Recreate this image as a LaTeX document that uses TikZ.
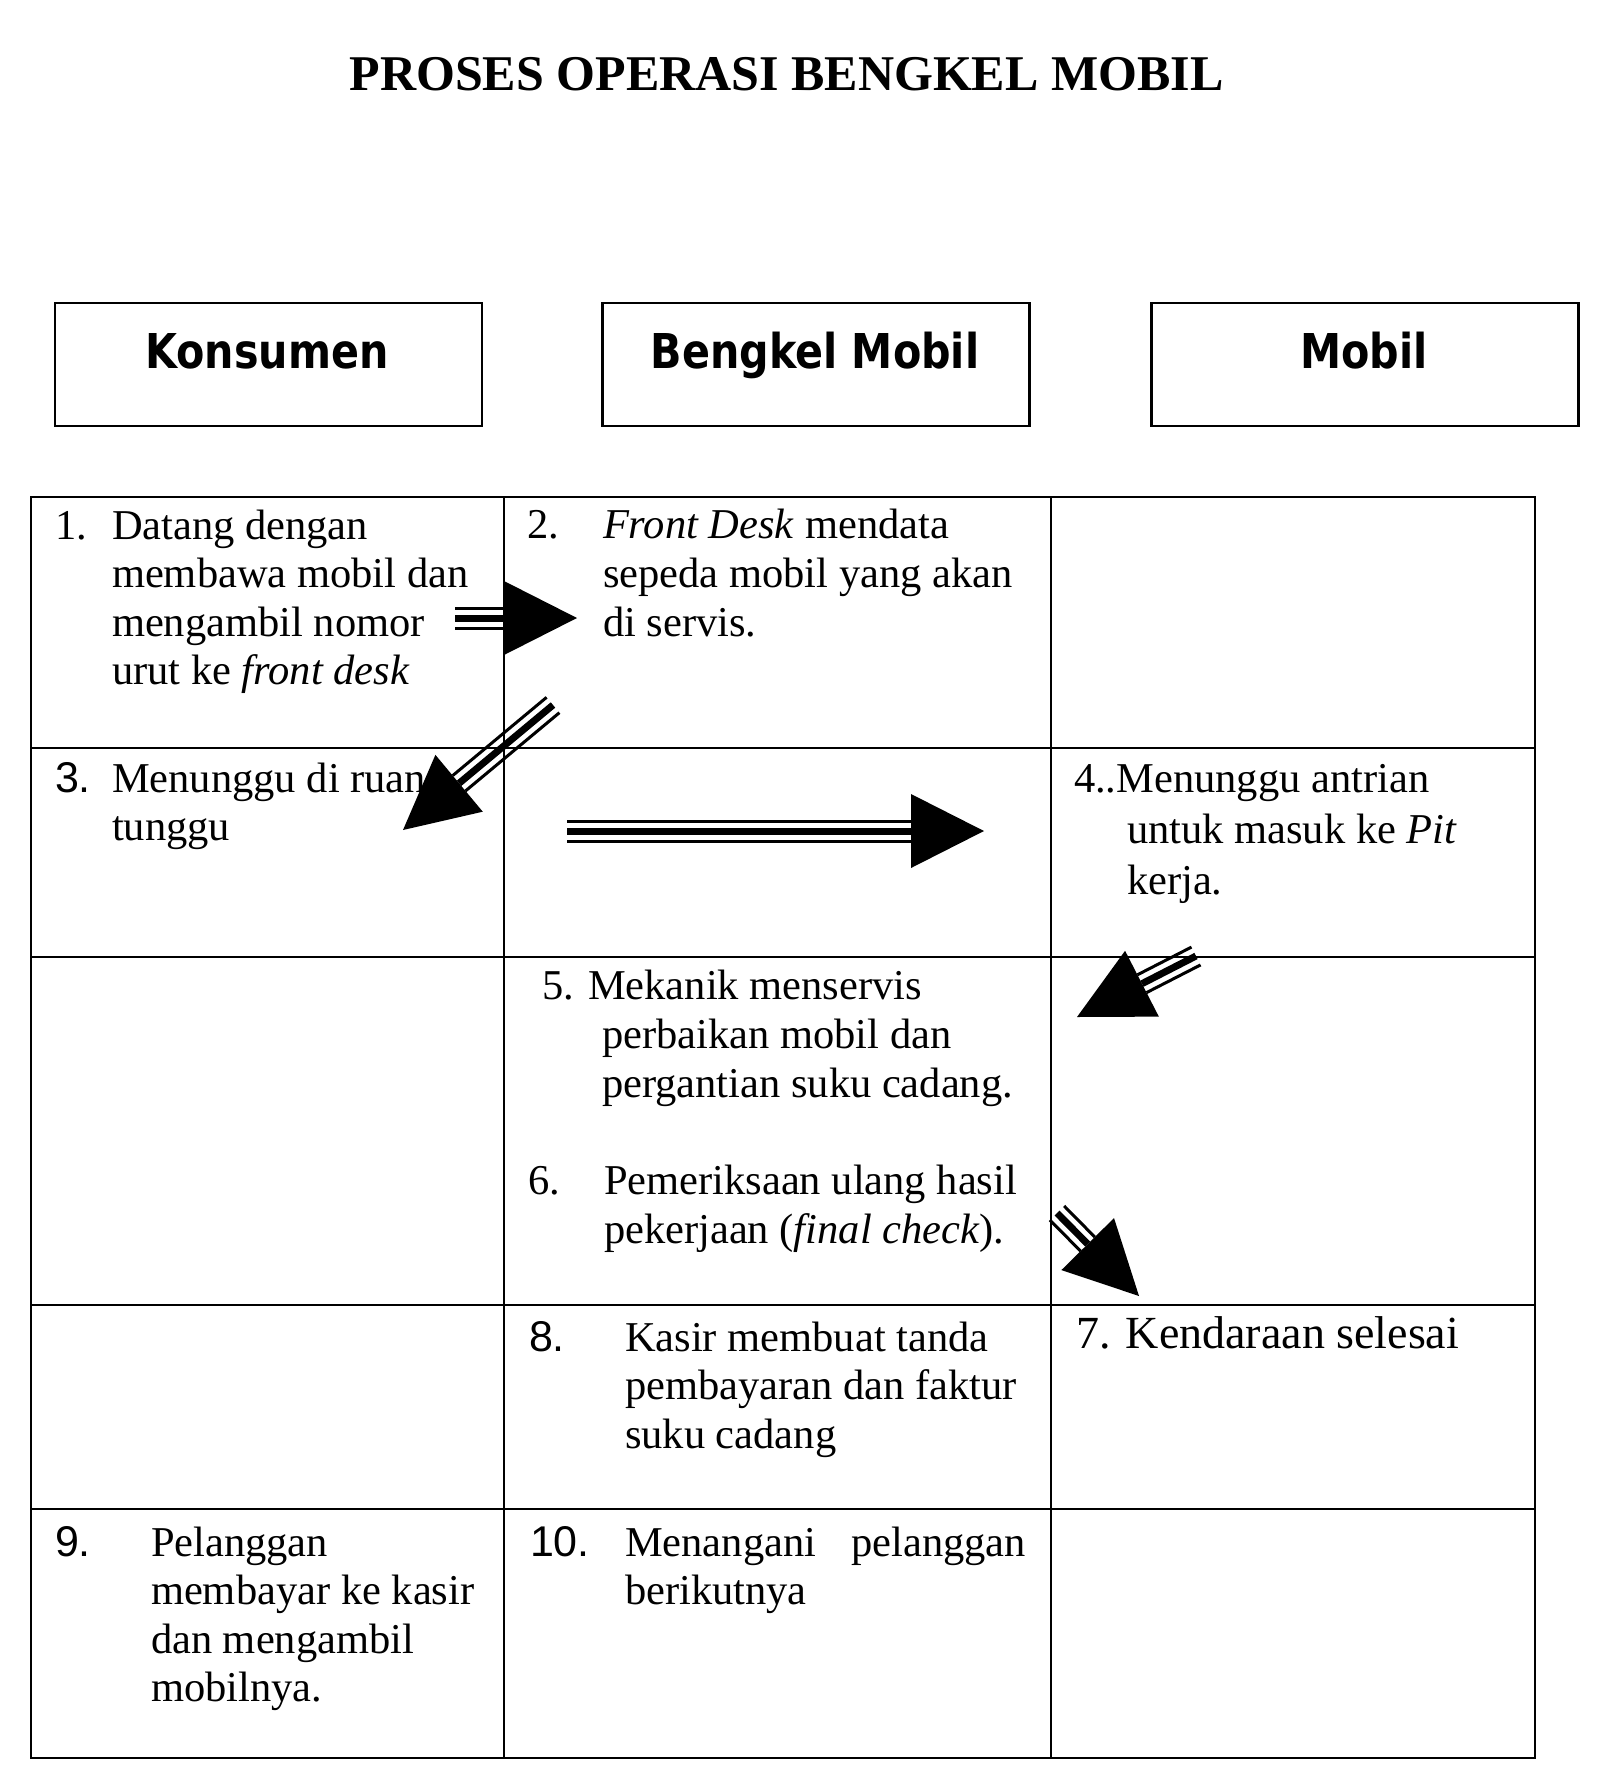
\documentclass[tikz,border=0pt]{standalone}
\usepackage{fontspec}
\setmainfont{Liberation Serif}
\newfontfamily\hdrfont[FakeStretch=0.86]{DejaVu Sans}
\newfontfamily\numfont{Liberation Sans}
\usetikzlibrary{calc}
\newcommand\bodysize{\fontsize{42.5}{48.5}\selectfont}
\newcommand\celllines[2]{\vtop{\baselineskip=#1pt\lineskiplimit=-100pt\lineskip=0pt #2}}
\newcommand\Ln[1]{\hbox{#1}}
\newcommand\stripearrow[2]{%
  \coordinate (#2b) at ($(#2)!73pt!(#1)$);
  \draw[line width=7pt] (#1) -- (#2b);
  \draw[line width=3pt] ($(#1)!10pt!90:(#2b)$) -- ($(#2b)!10pt!-90:(#1)$);
  \draw[line width=3pt] ($(#1)!10pt!-90:(#2b)$) -- ($(#2b)!10pt!90:(#1)$);
  \fill ($(#2b)!37pt!90:(#2)$) -- (#2) -- ($(#2b)!37pt!-90:(#2)$) -- cycle;
}
\begin{document}
\begin{tikzpicture}[x=1pt,y=-1pt,
  every node/.style={inner sep=0pt, outer sep=0pt},
  body/.style={anchor=base west, font=\bodysize},
  num/.style={anchor=base west, font=\numfont\fontsize{43}{48}\selectfont},
  hdrbox/.style={draw, line width=2.4pt, minimum width=427pt, minimum height=123pt},
  hdrtext/.style={anchor=base, font=\hdrfont\bfseries\fontsize{48}{56}\selectfont},
  grid/.style={line width=2.2pt},
]
\useasboundingbox (0,0) rectangle (1600,1785);

% title
\node[anchor=base, font=\bfseries\fontsize{50}{60}\selectfont] (title) at (786.5,90) {PROSES OPERASI BENGKEL MOBIL};

% header boxes
\node[hdrbox] (kbox) at (268.5,364.5) {};
\node[hdrbox] (bbox) at (816,364.5) {};
\node[hdrbox] (mbox) at (1365,364.5) {};
\node[hdrtext] (ktext) at (267,368) {Konsumen};
\node[hdrtext] (btext) at (815,368) {Bengkel Mobil};
\node[hdrtext] (mtext) at (1364,368) {Mobil};

% table grid
\draw[grid] (31,497) rectangle (1535,1758);
\foreach \x in {504,1051} \draw[grid] (\x,497) -- (\x,1758);
\foreach \y in {748,957,1305,1509} \draw[grid] (31,\y) -- (1535,\y);

% cell 1
\node[body] (n1) at (55,539) {1.};
\node[body] (t1) at (112,539) {\celllines{48.5}{\Ln{Datang dengan}\Ln{membawa mobil dan}\Ln{mengambil nomor}\Ln{urut ke \textit{front desk}}}};
% cell 2
\node[body] (n2) at (527,538) {2.};
\node[body] (t2) at (603,538) {\celllines{49}{\Ln{\textit{Front Desk} mendata}\Ln{sepeda mobil yang akan}\Ln{di servis.}}};
% cell 3
\node[num] (n3) at (55,792) {3.};
\node[body] (t3) at (112,792) {\celllines{48.5}{\Ln{Menunggu di ruang}\Ln{tunggu}}};
% cell 4
\node[body] (t4) at (1074,792) {4..Menunggu antrian};
\node[body] (t4b) at (1127,843) {\celllines{51}{\Ln{untuk masuk ke \textit{Pit}}\Ln{kerja.}}};
% cell 5
\node[body] (t5) at (542,999) {5. Mekanik menservis};
\node[body] (t5b) at (602,1048) {\celllines{49}{\Ln{perbaikan mobil dan}\Ln{pergantian suku cadang.}}};
% cell 6
\node[body] (n6) at (528,1194) {6.};
\node[body] (t6) at (604,1194) {\celllines{49}{\Ln{Pemeriksaan ulang hasil}\Ln{pekerjaan (\textit{final check}).}}};
% cell 7
\node[anchor=base west, font=\fontsize{46}{52}\selectfont] (t7) at (1076,1348) {7. Kendaraan selesai};
% cell 8
\node[num] (n8) at (529,1351) {8.};
\node[body] (t8) at (625,1351) {\celllines{48.5}{\Ln{Kasir membuat tanda}\Ln{pembayaran dan faktur}\Ln{suku cadang}}};
% cell 9
\node[num] (n9) at (55,1556) {9.};
\node[body] (t9) at (151,1556) {\celllines{48.5}{\Ln{Pelanggan}\Ln{membayar ke kasir}\Ln{dan mengambil}\Ln{mobilnya.}}};
% cell 10
\node[num] (n10) at (530,1556) {10.};
\node[body] (t10) at (625,1556) {\celllines{48.5}{\hbox to 401pt{Menangani\hfill pelanggan}\Ln{berikutnya}}};

% arrows
\coordinate (sA) at (455,618);  \coordinate (eA) at (577,618);
\coordinate (sL) at (567,831);  \coordinate (eL) at (984,831);
\coordinate (sB) at (553,705);  \coordinate (eB) at (403,830);
\coordinate (sC) at (1196,956); \coordinate (eC) at (1077,1017);
\coordinate (sD) at (1057,1213);\coordinate (eD) at (1139,1296);
\stripearrow{sA}{eA}
\stripearrow{sL}{eL}
\stripearrow{sB}{eB}
\stripearrow{sC}{eC}
\stripearrow{sD}{eD}
\end{tikzpicture}
\end{document}
